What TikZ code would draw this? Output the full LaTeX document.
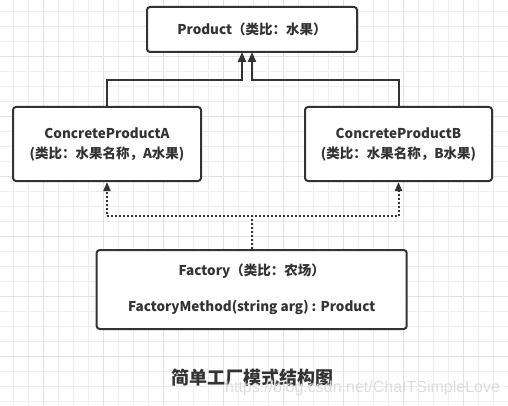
\documentclass[tikz,border=0pt]{standalone}
\usepackage{fontspec}
\setmainfont{Noto Sans CJK SC}
\newfontfamily\wmfont{Liberation Sans}
\usetikzlibrary{arrows.meta,calc}
\definecolor{ink}{HTML}{333333}
\definecolor{gridminor}{HTML}{EEEEEE}
\definecolor{gridmajor}{HTML}{E2E2E2}
\definecolor{wmark}{HTML}{DCDCDC}
\tikzset{
  box/.style={draw=ink,line width=2pt,rounded corners=3pt,fill=white,
    text=ink,align=center,font=\bfseries\fontsize{13.5}{20}\selectfont,
    inner sep=0pt},
  solidarr/.style={draw=ink,line width=2pt,-{Triangle[width=8pt,length=10pt]}},
  dotarr/.style={draw=ink,line width=2pt,dash pattern=on 2pt off 2pt,
    -{Triangle[width=7pt,length=9pt]}},
}
\begin{document}
\begin{tikzpicture}[x=1pt,y=-1pt]
\useasboundingbox (0,0) rectangle (508,406);
% grid
\foreach \gx in {13.3,28.3,...,508}{\draw[gridminor,line width=0.8pt] (\gx,0) -- (\gx,406);}
\foreach \gy in {11.7,26.7,...,406}{\draw[gridminor,line width=0.8pt] (0,\gy) -- (508,\gy);}
\foreach \gx in {43.3,103.3,...,508}{\draw[gridmajor,line width=0.8pt] (\gx,0) -- (\gx,406);}
\foreach \gy in {56.7,116.7,...,406}{\draw[gridmajor,line width=0.8pt] (0,\gy) -- (508,\gy);}
% boxes
\node[box,minimum width=210pt,minimum height=45pt] (P) at (252,29.5) {Product（类比：水果）};
\node[box,minimum width=188pt,minimum height=74pt] (A) at (107,144) {ConcreteProductA\\(类比：水果名称，A水果)};
\node[box,minimum width=187pt,minimum height=74pt] (B) at (398.5,144) {ConcreteProductB\\(类比：水果名称，B水果)};
\node[box,minimum width=310pt,minimum height=79pt] (F) at (251.7,289.5) {Factory（类比：农场）\\[16pt]FactoryMethod(string arg) : Product};
% connector points
\coordinate (pa) at (242,52);
\coordinate (pb) at (252,52);
\coordinate (ja) at (242,80);
\coordinate (jb) at (252,80);
\coordinate (jf) at (252,216);
% generalization arrows
\draw[solidarr] (A.north) |- (ja) -- (pa);
\draw[solidarr] (B.north) |- (jb) -- (pb);
% dependency arrows
\draw[dotarr] (F.north -| jf) -- (jf) -| (A.south);
\draw[dotarr] (F.north -| jf) -- (jf) -| (B.south);
% title and watermark
\node[text=ink,font=\bfseries\fontsize{18}{20}\selectfont] (T) at (252,378) {简单工厂模式结构图};
\node[text=wmark,font=\wmfont\fontsize{16}{18}\selectfont,anchor=west,inner sep=0pt] (W) at (225,388) {https://blog.csdn.net/ChaITSimpleLove};
\end{tikzpicture}
\end{document}
